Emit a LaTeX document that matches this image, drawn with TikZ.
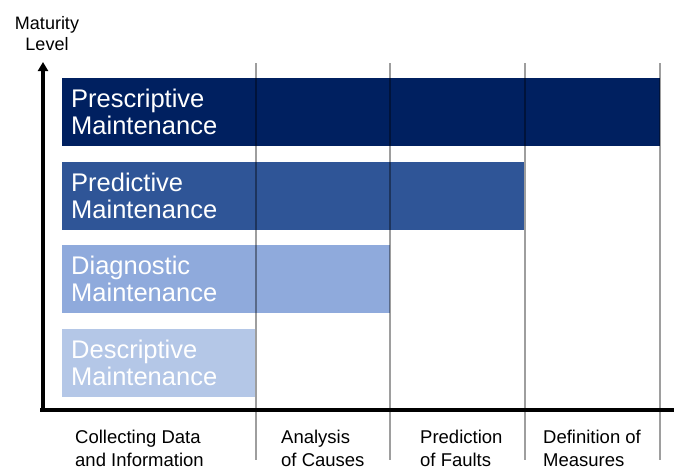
\documentclass[tikz,border=0pt]{standalone}
\usepackage{fontspec}
\setmainfont{Liberation Sans}
\usetikzlibrary{arrows.meta}
\definecolor{presc}{HTML}{002060}
\definecolor{predi}{HTML}{2F5597}
\definecolor{diagn}{HTML}{8FAADC}
\definecolor{descr}{HTML}{B4C7E7}
\begin{document}
\begin{tikzpicture}[x=1pt,y=-1pt,
  levelbar/.style={fill=#1, draw=none, anchor=north west, minimum height=68pt,
    inner xsep=9pt, inner ysep=0pt, align=left, text=white,
    font=\fontsize{25.5}{27}\selectfont},
  gridline/.style={draw=black, draw opacity=0.38, line width=1.5pt},
  axisline/.style={draw=black, line width=3.6pt},
  steplabel/.style={anchor=base west, inner sep=0pt, align=left,
    font=\fontsize{18.5}{23}\selectfont}]
\useasboundingbox (0,0) rectangle (674,471);

% maturity levels
\node[levelbar=presc, minimum width=598pt, text width=580pt] (prescriptive) at (62,78)
  {Prescriptive\\Maintenance};
\node[levelbar=predi, minimum width=462pt, text width=444pt] (predictive) at (62,162)
  {Predictive\\Maintenance};
\node[levelbar=diagn, minimum width=328pt, text width=310pt] (diagnostic) at (62,245)
  {Diagnostic\\Maintenance};
\node[levelbar=descr, minimum width=193pt, text width=175pt] (descriptive) at (62,329)
  {Descriptive\\Maintenance};

% column separators
\foreach \gx/\gn in {256/a, 390/b, 525/c, 660/d} {
  \coordinate (top\gn) at (\gx,63);
  \coordinate (bot\gn) at (\gx,460);
  \draw[gridline] (top\gn) -- (bot\gn);
}

% axes
\coordinate (origin) at (43,410);
\coordinate (ytip) at (43,62);
\coordinate (xend) at (674,410);
\draw[axisline] (40,410) -- (xend);
\draw[axisline, -{Triangle[length=9pt, width=10pt]}] (43,412) -- (ytip);

\node[anchor=base, inner sep=0pt, align=center, font=\fontsize{18}{21}\selectfont] (ylabel) at (47,50)
  {Maturity\\Level};

% analytics steps
\node[steplabel] (collect) at (75,466) {Collecting Data\\and Information};
\node[steplabel] (analysis) at (281,466) {Analysis\\of Causes};
\node[steplabel] (prediction) at (420,466) {Prediction\\of Faults};
\node[steplabel] (measures) at (543,466) {Definition of\\Measures};
\end{tikzpicture}
\end{document}
